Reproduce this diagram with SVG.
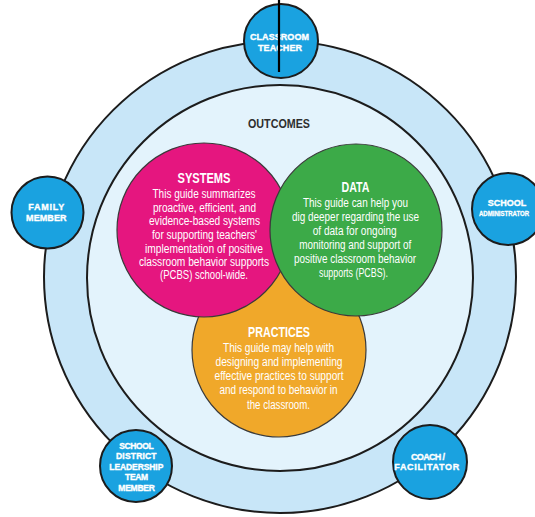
<svg xmlns="http://www.w3.org/2000/svg" width="535" height="517" viewBox="0 0 535 517">
<style>
.ring{stroke:#1c1c1c;stroke-width:2}
.node{fill:#1aa2e0;stroke:#1c1c1c;stroke-width:2}
.nl{font-family:"Liberation Sans",Arial,sans-serif;font-weight:bold;font-size:9px;fill:#fff;stroke:#fff;stroke-width:0.35;text-anchor:middle}
.venn{stroke:#3a3a3a;stroke-width:1.2}
.vt{font-family:"Liberation Sans",Arial,sans-serif;font-weight:bold;font-size:14px;fill:#fff;text-anchor:middle}
.vb{font-family:"Liberation Sans",Arial,sans-serif;font-size:12px;fill:#fff;text-anchor:middle}
.title{font-family:"Liberation Sans",Arial,sans-serif;font-weight:bold;font-size:13px;fill:#2e2e2e;text-anchor:middle}
</style>
<rect width="535" height="517" fill="#fff"/>
<g id="rings">
<circle class="ring" cx="280" cy="277" r="236" fill="#c8e6f8"/>
<circle class="ring" cx="280" cy="278" r="193" fill="#e3f3fc"/>
<text class="title" x="279" y="128" textLength="62" lengthAdjust="spacingAndGlyphs">OUTCOMES</text>
</g>
<g id="practices">
<circle class="venn" cx="279" cy="350" r="87" fill="#f0a82a"/>
<text class="vt" x="279" y="337" textLength="62" lengthAdjust="spacingAndGlyphs">PRACTICES</text>
<text class="vb" x="278.5" y="352" textLength="111" lengthAdjust="spacingAndGlyphs">This guide may help with</text>
<text class="vb" x="279" y="366" textLength="127" lengthAdjust="spacingAndGlyphs">designing and implementing</text>
<text class="vb" x="279" y="380" textLength="129" lengthAdjust="spacingAndGlyphs">effective practices to support</text>
<text class="vb" x="278.5" y="394" textLength="118" lengthAdjust="spacingAndGlyphs">and respond to behavior in</text>
<text class="vb" x="278.5" y="409" textLength="63" lengthAdjust="spacingAndGlyphs">the classroom.</text>
</g>
<g id="systems">
<circle class="venn" cx="204" cy="230" r="87" fill="#e5167f"/>
<text class="vt" x="204" y="183" textLength="53" lengthAdjust="spacingAndGlyphs">SYSTEMS</text>
<text class="vb" x="204" y="197.5" textLength="103" lengthAdjust="spacingAndGlyphs">This guide summarizes</text>
<text class="vb" x="204.5" y="211.5" textLength="103" lengthAdjust="spacingAndGlyphs">proactive, efficient, and</text>
<text class="vb" x="204.5" y="225" textLength="111" lengthAdjust="spacingAndGlyphs">evidence-based systems</text>
<text class="vb" x="204.5" y="238.5" textLength="105" lengthAdjust="spacingAndGlyphs">for supporting teachers'</text>
<text class="vb" x="204" y="252.5" textLength="118" lengthAdjust="spacingAndGlyphs">implementation of positive</text>
<text class="vb" x="204" y="266" textLength="130" lengthAdjust="spacingAndGlyphs">classroom behavior supports</text>
<text class="vb" x="204" y="279" textLength="88" lengthAdjust="spacingAndGlyphs">(PCBS) school-wide.</text>
</g>
<g id="data">
<circle class="venn" cx="356" cy="230" r="86" fill="#3caa48"/>
<text class="vt" x="355.5" y="192" textLength="28" lengthAdjust="spacingAndGlyphs">DATA</text>
<text class="vb" x="355.5" y="207" textLength="105" lengthAdjust="spacingAndGlyphs">This guide can help you</text>
<text class="vb" x="355.5" y="221" textLength="127" lengthAdjust="spacingAndGlyphs">dig deeper regarding the use</text>
<text class="vb" x="354.7" y="235" textLength="84" lengthAdjust="spacingAndGlyphs">of data for ongoing</text>
<text class="vb" x="355.3" y="249" textLength="112" lengthAdjust="spacingAndGlyphs">monitoring and support of</text>
<text class="vb" x="355" y="263" textLength="122" lengthAdjust="spacingAndGlyphs">positive classroom behavior</text>
<text class="vb" x="353.5" y="277" textLength="69" lengthAdjust="spacingAndGlyphs">supports (PCBS).</text>
</g>
<g id="classroom-teacher">
<circle class="node" cx="281" cy="41" r="37"/>
<text class="nl" x="279.5" y="40" textLength="59">CLASSROOM</text>
<text class="nl" x="280" y="50.5" textLength="44">TEACHER</text>
</g>
<g id="family-member">
<circle class="node" cx="47.5" cy="212.5" r="36"/>
<text class="nl" x="46.3" y="210" textLength="36">FAMILY</text>
<text class="nl" x="46.3" y="221" textLength="40.5">MEMBER</text>
</g>
<g id="school-administrator">
<circle class="node" cx="508" cy="209" r="36"/>
<text class="nl" x="507" y="206" textLength="38.5">SCHOOL</text>
<text class="nl" x="504" y="216" textLength="50" lengthAdjust="spacingAndGlyphs" style="font-size:7px;stroke-width:0.3">ADMINISTRATOR</text>
</g>
<g id="district-team-member">
<circle class="node" cx="136" cy="466" r="36"/>
<text class="nl" x="136.5" y="448.5" textLength="34.5" style="font-size:8.5px">SCHOOL</text>
<text class="nl" x="136.3" y="459" textLength="40.5" style="font-size:8.5px">DISTRICT</text>
<text class="nl" x="136.3" y="469.5" textLength="54" style="font-size:8.5px">LEADERSHIP</text>
<text class="nl" x="136.6" y="480" textLength="23" style="font-size:8.5px">TEAM</text>
<text class="nl" x="136.6" y="490.5" textLength="36.5" style="font-size:8.5px">MEMBER</text>
</g>
<g id="coach-facilitator">
<circle class="node" cx="430" cy="462" r="37"/>
<text class="nl" x="428" y="460" textLength="34">COACH /</text>
<text class="nl" x="426.7" y="470" textLength="65">FACILITATOR</text>
</g>
<g id="connectors">
<line x1="279" y1="0" x2="279" y2="72" stroke="#000" stroke-width="2.2"/>
</g>
</svg>
